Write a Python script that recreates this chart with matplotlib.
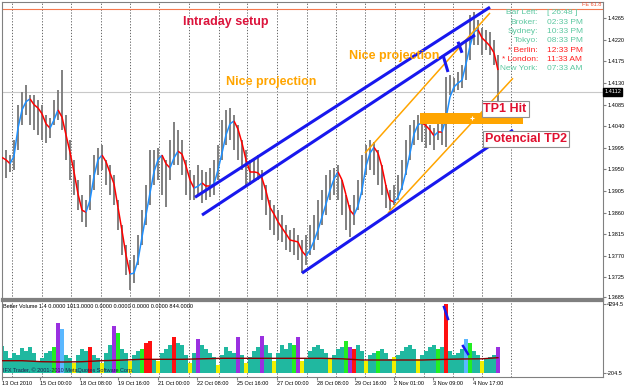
import matplotlib
matplotlib.use('Agg')
import matplotlib.pyplot as plt
import numpy as np
from matplotlib.collections import LineCollection
from matplotlib.patches import Rectangle

### ---------------------- DATA ---------------------- ###
# one entry per ~3 H1 bars, EURUSD 13 Oct - 4 Nov 2010
high = [1.3994, 1.3990, 1.3980, 1.4011, 1.4085, 1.4112, 1.4126, 1.4105, 1.4105, 1.4095,
        1.4085, 1.4064, 1.4057, 1.4095, 1.4116, 1.4157, 1.4064, 1.4011, 1.3970, 1.3928,
        1.3897, 1.3886, 1.3938, 1.3980, 1.3994, 1.4001, 1.3970, 1.3959, 1.3938, 1.3886,
        1.3834, 1.3792, 1.3761, 1.3772, 1.3813, 1.3865, 1.3918, 1.3990, 1.3990, 1.3994,
        1.3980, 1.3970, 1.4011, 1.4049, 1.4032, 1.4011, 1.3970, 1.3949, 1.3938, 1.3959,
        1.3949, 1.3945, 1.3953, 1.3970, 1.4001, 1.4053, 1.4074, 1.4078, 1.4064, 1.4043,
        1.4011, 1.3990, 1.3970, 1.3974, 1.3980, 1.3949, 1.3918, 1.3886, 1.3876, 1.3865,
        1.3855, 1.3834, 1.3824, 1.3828, 1.3813, 1.3803, 1.3813, 1.3834, 1.3855, 1.3886,
        1.3907, 1.3938, 1.3949, 1.3953, 1.3959, 1.3928, 1.3897, 1.3876, 1.3897, 1.3928,
        1.3980, 1.4001, 1.4011, 1.4007, 1.3990, 1.3959, 1.3918, 1.3907, 1.3918, 1.3938,
        1.3970, 1.4011, 1.4043, 1.4053, 1.4064, 1.4057, 1.4053, 1.4043, 1.4036, 1.4053,
        1.4057, 1.4142, 1.4147, 1.4140, 1.4153, 1.4168, 1.4220, 1.4272, 1.4278, 1.4261,
        1.4245, 1.4241, 1.4236, 1.4220, 1.4188]
low = [1.3913, 1.3932, 1.3945, 1.3949, 1.3990, 1.4043, 1.4064, 1.4043, 1.4032, 1.4022,
       1.4011, 1.4005, 1.4015, 1.4043, 1.4053, 1.4032, 1.3970, 1.3928, 1.3897, 1.3865,
       1.3841, 1.3830, 1.3865, 1.3907, 1.3938, 1.3949, 1.3918, 1.3897, 1.3876, 1.3824,
       1.3772, 1.3730, 1.3699, 1.3714, 1.3751, 1.3792, 1.3834, 1.3876, 1.3918, 1.3928,
       1.3897, 1.3871, 1.3928, 1.3959, 1.3959, 1.3938, 1.3897, 1.3886, 1.3886, 1.3897,
       1.3880, 1.3886, 1.3892, 1.3897, 1.3928, 1.3970, 1.4001, 1.4011, 1.3990, 1.3970,
       1.3949, 1.3918, 1.3918, 1.3924, 1.3928, 1.3886, 1.3855, 1.3824, 1.3813, 1.3803,
       1.3799, 1.3782, 1.3778, 1.3772, 1.3761, 1.3734, 1.3751, 1.3772, 1.3782, 1.3803,
       1.3834, 1.3855, 1.3886, 1.3897, 1.3886, 1.3855, 1.3824, 1.3809, 1.3834, 1.3865,
       1.3897, 1.3938, 1.3949, 1.3938, 1.3918, 1.3897, 1.3870, 1.3865, 1.3876, 1.3886,
       1.3907, 1.3938, 1.3970, 1.4001, 1.4011, 1.4007, 1.3994, 1.4001, 1.3990, 1.4011,
       1.4001, 1.3996, 1.4105, 1.4112, 1.4116, 1.4120, 1.4136, 1.4178, 1.4209, 1.4209,
       1.4188, 1.4199, 1.4188, 1.4168, 1.4080]
# smoothed MA drawn on the chart (red falling / blue rising)
ma = [1.3975, 1.3970, 1.3962, 1.3978, 1.4036, 1.4074, 1.4091, 1.4097, 1.4085, 1.4078,
      1.4066, 1.4045, 1.4036, 1.4053, 1.4074, 1.4059, 1.4022, 1.3986, 1.3945, 1.3899,
      1.3865, 1.3861, 1.3886, 1.3936, 1.3970, 1.3980, 1.3966, 1.3943, 1.3920, 1.3871,
      1.3822, 1.3772, 1.3732, 1.3734, 1.3761, 1.3809, 1.3855, 1.3901, 1.3945, 1.3970,
      1.3980, 1.3962, 1.3953, 1.3974, 1.3988, 1.3982, 1.3957, 1.3928, 1.3911, 1.3915,
      1.3922, 1.3915, 1.3915, 1.3920, 1.3949, 1.3984, 1.4022, 1.4045, 1.4051, 1.4034,
      1.4005, 1.3970, 1.3945, 1.3945, 1.3943, 1.3932, 1.3905, 1.3871, 1.3857, 1.3841,
      1.3828, 1.3816, 1.3803, 1.3801, 1.3799, 1.3780, 1.3770, 1.3782, 1.3801, 1.3824,
      1.3851, 1.3878, 1.3907, 1.3930, 1.3945, 1.3928, 1.3897, 1.3865, 1.3855, 1.3874,
      1.3907, 1.3957, 1.3984, 1.3996, 1.3984, 1.3955, 1.3915, 1.3886, 1.3882, 1.3892,
      1.3913, 1.3945, 1.3984, 1.4024, 1.4043, 1.4047, 1.4041, 1.4032, 1.4020, 1.4028,
      1.4028, 1.4057, 1.4101, 1.4122, 1.4130, 1.4136, 1.4170, 1.4207, 1.4237, 1.4241,
      1.4224, 1.4216, 1.4207, 1.4193, 1.4157]

vol = [1674, 1364, 930, 1240, 1116, 1550, 1364, 1612, 1240, 744,
       930, 1240, 1364, 1612, 3100, 2728, 1116, 930, 620, 1116,
       1488, 1364, 1612, 1116, 930, 620, 1240, 1736, 2914, 2480,
       1488, 1240, 744, 1116, 1364, 1488, 1860, 1984, 868, 744,
       1240, 1488, 1736, 2232, 1860, 1736, 1116, 620, 1240, 2108,
       1736, 1488, 1240, 992, 496, 1116, 1612, 1364, 1240, 2232,
       1116, 620, 992, 1364, 1612, 2294, 1736, 1240, 744, 1240,
       1736, 1488, 1860, 1736, 2232, 744, 868, 1364, 1612, 1736,
       1488, 1240, 868, 1116, 1488, 1612, 1984, 1612, 1488, 1736,
       1364, 744, 1116, 1240, 1364, 1488, 1240, 868, 992, 1116,
       1364, 1612, 1736, 1488, 868, 1116, 1364, 1612, 1736, 1488,
       1612, 4294, 1364, 1116, 1240, 1488, 2108, 1860, 1364, 1116,
       744, 868, 992, 1116, 1612]
# Better Volume bar type: t normal, y low, g churn, r climax high, p climax churn, b other
vol_type = list("tttttttttt" "tttgpbttyt" "ttrttyttpg" "ttyttgrrty" "tttrtttytp"
                "ttttyttttp" "tytttpttyt" "tttgpytttt" "ttytttgprt" "tyttgtttyt"
                "ttttyttttg" "trttttbgtt" "ytttp")
vol_ma_bar = [0, 5, 10, 15, 20, 25, 30, 35, 40, 45, 50, 55, 60, 65, 70, 75, 80, 85,
              90, 95, 100, 105, 110, 115, 120, 124]
vol_ma = [763, 763, 700, 682, 700, 763, 800, 849, 849, 849, 880, 911, 911, 911, 911,
          911, 911, 880, 806, 806, 806, 806, 840, 868, 880, 949]

# drawn objects (bar, price)
blue_lines = [((48.25, 1.3892), (122.0, 1.4288)),
              ((50.0, 1.3855), (118.25, 1.4230)),
              ((75.0, 1.3734), (127.75, 1.4032))]
blue_marks = [((110.25, 1.4188), (111.5, 1.4153)),
              ((114.0, 1.4216), (115.0, 1.4193))]
vol_marks = [((110.5, 4092), (111.5, 3348)),
             ((115.25, 1674), (116.5, 1178))]
orange_lines = [((90.75, 1.3984), (122.0, 1.4276)),
                ((96.5, 1.3859), (127.75, 1.4140))]
tp_zone = (104.5, 130.25, 1.4045, 1.4068)
fe_level = 1.4284
ask = 1.4112

day_bars = [2.5, 10, 17.25, 24.75, 32, 39.25, 46.75, 54.25, 61.25, 68.75, 76.25,
            83.5, 90.75, 98.25, 105.5, 112.75, 120, 127.25]
xtick_bars = [0, 9.5, 19.5, 29, 39, 48.75, 58.75, 68.75, 78.75, 88.25, 98, 107.75, 117.75]
xtick_labels = ['13 Oct 2010', '15 Oct 00:00', '18 Oct 08:00', '19 Oct 16:00',
                '21 Oct 00:00', '22 Oct 08:00', '25 Oct 16:00', '27 Oct 00:00',
                '28 Oct 08:00', '29 Oct 16:00', '2 Nov 01:00', '3 Nov 09:00', '4 Nov 17:00']
price_ticks = [1.4265, 1.4220, 1.4175, 1.4130, 1.4085, 1.4040, 1.3995, 1.3950,
               1.3905, 1.3860, 1.3815, 1.3770, 1.3725, 1.3685]

clock_names = ['Bar Left:', 'Broker:', 'Sydney:', 'Tokyo:', '* Berlin:', '* London:', 'New York:']
clock_values = ['[ 26:48 ]', '02:33 PM', '10:33 PM', '08:33 PM', '12:33 PM', '11:33 AM', '07:33 AM']
clock_open = [False, False, False, False, True, True, False]
### -------------------------------------------------- ###

W, H = 625, 387
fx = lambda p: p / W
fy = lambda p: 1 - p / H
FONT = 'Liberation Sans'
GREEN_TXT = '#5cc8a0'

fig = plt.figure(figsize=(W / 100, H / 100), dpi=100)
fig.patch.set_facecolor('white')

ax = fig.add_axes([fx(2), fy(299), 601 / W, 297 / H])
axv = fig.add_axes([fx(2), fy(377), 601 / W, 76 / H])

x = np.arange(len(high))
for a in (ax, axv):
    a.set_xlim(0, 150.25)
    for d in day_bars:
        a.axvline(d, color='#505050', lw=0.6, ls=(0, (1.5, 2)), zorder=0)
    for s in a.spines.values():
        s.set_color('#808080')
        s.set_linewidth(0.8)
ax.spines['bottom'].set_linewidth(1.6)
axv.spines['top'].set_linewidth(1.6)

# ---- main price panel ----
ax.set_ylim(1.36801, 1.42988)
ax.axhline(fe_level, color='#f4794f', lw=0.8, zorder=1)
ax.axhline(ask, color='#c8c8c8', lw=0.8, zorder=1)
ax.vlines(x, low, high, color='#808080', lw=1.4, zorder=2)

pts = np.column_stack([x, ma])
segs = np.stack([pts[:-1], pts[1:]], axis=1)
seg_col = ['#1e90ff' if ma[i + 1] > ma[i] else '#ff0000' for i in range(len(ma) - 1)]
ax.add_collection(LineCollection(segs, colors=seg_col, linewidths=1.1, zorder=3))

x0, x1, y0, y1 = tp_zone
ax.add_patch(Rectangle((x0, y0), x1 - x0, y1 - y0, fc='#ffa500', ec='none', zorder=4))
ax.plot([(x0 + x1) / 2], [(y0 + y1) / 2], marker='+', color='white', ms=3, mew=0.8, zorder=5)
for (a0, b0), (a1, b1) in orange_lines:
    ax.plot([a0, a1], [b0, b1], color='#ffa500', lw=1.1, zorder=4, solid_capstyle='butt')
for (a0, b0), (a1, b1) in blue_lines + blue_marks:
    ax.plot([a0, a1], [b0, b1], color='#1818ee', lw=2.2, zorder=5, solid_capstyle='butt')

ax.yaxis.tick_right()
ax.set_yticks(price_ticks)
ax.set_yticklabels([f'{v:.4f}' for v in price_ticks])
ax.tick_params(axis='y', labelsize=4, length=2, pad=1, color='#808080')
ax.set_xticks([])
ax.text(1.002, ask, f'{ask:.4f}', transform=ax.get_yaxis_transform(), fontsize=4,
        color='white', va='center', ha='left', family=FONT,
        bbox=dict(boxstyle='square,pad=0.25', fc='black', ec='black'))

# ---- volume panel ----
vcol = {'t': '#20b8a0', 'y': '#f0f000', 'g': '#22ee22', 'r': '#ff1010',
        'p': '#9a30e0', 'b': '#5ab8ff'}
axv.set_ylim(-248, 4464)
axv.bar(x, vol, width=0.9, color=[vcol[c] for c in vol_type], linewidth=0, zorder=2)
axv.plot(vol_ma_bar, vol_ma, color='#8b0000', lw=1.0, zorder=3)
for (a0, b0), (a1, b1) in vol_marks:
    axv.plot([a0, a1], [b0, b1], color='#1818ee', lw=1.8, zorder=4)
axv.yaxis.tick_right()
axv.set_yticks([4294.5, 0])
axv.set_yticklabels(['4294.5', '-204.5'])
axv.tick_params(axis='y', labelsize=4, length=2, pad=1, color='#808080')
axv.set_xticks(xtick_bars)
axv.set_xticklabels(xtick_labels)
axv.tick_params(axis='x', labelsize=4, length=2, pad=1, color='#808080')
for lbl in axv.get_xticklabels() + axv.get_yticklabels() + ax.get_yticklabels():
    lbl.set_family(FONT)
plt.setp(axv.get_xticklabels(), ha='left')

# ---- texts ----
bold = dict(family=FONT, weight='bold', fontsize=9, ha='center', va='center')
fig.text(fx(226), fy(22), 'Intraday setup', color='#dc143c', **bold)
fig.text(fx(271), fy(82), 'Nice projection', color='#ffa500', **bold)
fig.text(fx(394), fy(56), 'Nice projection', color='#ffa500', **bold)
boxed = dict(boxstyle='square,pad=0.15', fc='white', ec='#909090', lw=0.8)
fig.text(fx(505), fy(109), 'TP1 Hit', color='#e0102f', bbox=boxed, zorder=10, **bold)
fig.text(fx(526), fy(139), 'Potencial TP2', color='#e0102f', bbox=boxed, zorder=10, **bold)

fig.text(fx(601), fy(5), 'FE 61.8', color='#f05030', fontsize=4, family=FONT,
         ha='right', va='center')
for k, (nm, val, op) in enumerate(zip(clock_names, clock_values, clock_open)):
    c = '#ff2020' if op else GREEN_TXT
    yy = fy(13 + k * 9.3)
    fig.text(fx(538), yy, nm, color=c, fontsize=6, family=FONT, ha='right', va='center')
    fig.text(fx(547), yy, val, color=c, fontsize=6, family=FONT, ha='left', va='center')

fig.text(fx(3), fy(306), 'Better Volume 1.4 0.0000 1013.0000 0.0000 0.0000 0.0000 0.0000 844.0000',
         fontsize=4, family=FONT, color='black', ha='left', va='center')
fig.text(fx(3), fy(370), 'IFX Trader, \u00a9 2001-2010 MetaQuotes Software Corp.',
         fontsize=4, family=FONT, color='#202050', ha='left', va='center', zorder=10)

fig.savefig('out.png', dpi=100)
